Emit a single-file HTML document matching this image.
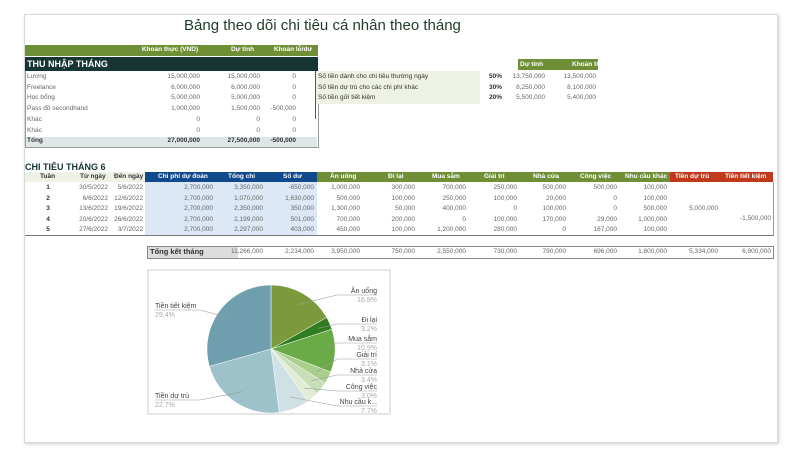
<!DOCTYPE html>
<html><head><meta charset="utf-8">
<style>
body{margin:0;width:800px;height:456px;background:#fff;font-family:"Liberation Sans",sans-serif;position:relative;overflow:hidden}
.frame{position:absolute;left:24px;top:14px;width:752px;height:427px;border:1px solid #d9d9d9;box-shadow:1px 1px 3px #ccc;background:#fff}
.a{position:absolute;font-size:6.5px;color:#666;white-space:nowrap;line-height:10px}
.r{text-align:right}
.c{text-align:center}
.bx{position:absolute}
.h{color:#fff}
</style></head><body>
<div class="frame"></div>
<div class="a" style="left:184px;top:16px;font-size:15px;line-height:20px;color:#1f3b2a">Bảng theo dõi chi tiêu cá nhân theo tháng</div>

<!-- income table -->
<div class="bx" style="left:25px;top:45px;width:293px;height:11px;background:#6e8f36"></div>
<div class="bx" style="left:25px;top:57px;width:293px;height:14px;background:#153633"></div>
<div class="a" style="left:27px;top:58px;font-size:9px;line-height:13px;color:#fff;font-weight:bold">THU NHẬP THÁNG</div>
<div class="bx" style="left:25px;top:71px;width:292px;height:76px;border:1px solid #999;border-top:none"></div>
<div class="bx" style="left:26px;top:137px;width:291px;height:10px;background:#dfe6e8"></div>
<div id="income"></div>

<!-- allocation table -->
<div class="bx" style="left:518px;top:59px;width:80px;height:11px;background:#6e8f36"></div>
<div class="bx" style="left:316px;top:71px;width:164px;height:33px;background:#eef2e4"></div>
<div class="bx" style="left:315px;top:71px;width:1px;height:48px;background:#555"></div>
<div id="alloc"></div>

<div class="a" style="left:25px;top:161px;font-size:9px;line-height:13px;color:#153633;font-weight:bold">CHI TIÊU THÁNG 6</div>
<div class="bx" style="left:25px;top:172px;width:120px;height:10px;background:#eef2e4"></div>
<div class="bx" style="left:145px;top:172px;width:172px;height:10px;background:#114a8c"></div>
<div class="bx" style="left:317px;top:172px;width:353px;height:10px;background:#6e8f36"></div>
<div class="bx" style="left:670px;top:172px;width:103px;height:10px;background:#c0391b"></div>
<div class="bx" style="left:145px;top:182px;width:172px;height:53px;background:#dce8f5"></div>
<div class="bx" style="left:25px;top:182px;width:748px;height:53px;border-bottom:1px solid #777;border-right:1px solid #999"></div>
<div class="bx" style="left:147px;top:246px;width:625px;height:11px;border:1px solid #888"></div>
<div class="bx" style="left:148px;top:247px;width:90px;height:11px;background:#ddd"></div>
<div id="spend"></div>

<svg style="position:absolute;left:0;top:0" width="800" height="456" id="pie">
<rect x="148" y="270" width="242" height="144" fill="#fff" stroke="#ccc"/>
</svg>

<script>
function cell(txt,x,y,w,align,cls,extra,name){
  var d=document.createElement('div');
  d.className='a '+(align||'')+' '+(cls||'');
  d.style.left=x+'px';d.style.top=y+'px';if(w)d.style.width=w+'px';
  if(extra)d.style.cssText+=extra;
  d.textContent=txt;
  
  
  document.body.appendChild(d);
}
// income
var incLabels=["Lương","Freelance","Học bổng","Pass đồ secondhand","Khác","Khác","Tổng"];
var incActual=["15,000,000","6,000,000","5,000,000","1,000,000","0","0","27,000,000"];
var incPlan=["15,000,000","6,000,000","5,000,000","1,500,000","0","0","27,500,000"];
var incDiff=["0","0","0","-500,000","0","0","-500,000"];
cell("Khoản thực (VND)",130,45,80,'c','h','font-weight:bold','income-col-actual');
cell("Dự tính",220,45,45,'c','h','font-weight:bold','income-col-plan');
cell("Khoản lỗ/dư",268,45,50,'c','h','font-weight:bold','income-col-diff');
for(var i=0;i<7;i++){
  var y=72+i*10.7, b=i==6?'font-weight:bold;color:#333':'';
  cell(incLabels[i],27,y,0,'','',b,'income-label');
  cell(incActual[i],130,y,70,'r','',b,'income-actual');
  cell(incPlan[i],190,y,70,'r','',b,'income-plan');
  cell(incDiff[i],246,y,50,'r','',b,'income-diff');
}
// allocation
var alLabels=["Số tiền dành cho chi tiêu thường ngày","Số tiền dự trù cho các chi phí khác","Số tiền gửi tiết kiệm"];
var alPct=["50%","30%","20%"],alPlan=["13,750,000","8,250,000","5,500,000"],alAct=["13,500,000","8,100,000","5,400,000"];
cell("Dự tính",520,60,0,'','h','font-weight:bold','alloc-col-plan');
cell("Khoản thực",572,60,0,'','h','font-weight:bold','alloc-col-actual');
for(i=0;i<3;i++){var y=72+i*10.6;
  cell(alLabels[i],318,y,0,'','','color:#333','alloc-label');
  cell(alPct[i],470,y,32,'r','','font-weight:bold;color:#333','alloc-pct');
  cell(alPlan[i],500,y,45,'r','','','alloc-plan');
  cell(alAct[i],550,y,46,'r','','','alloc-actual');}
// spending
var heads=["Tuần","Từ ngày","Đến ngày","Chi phí dự đoán","Tổng chi","Số dư","Ăn uống","Đi lại","Mua sắm","Giải trí","Nhà cửa","Công việc","Nhu cầu khác","Tiền dự trù","Tiền tiết kiệm"];
var headX=[40,80,114,158,228,283,330,388,432,484,533,580,625,675,725];
var colR=[56,110,145,215,265,316,362,417,468,519,568,619,669,720,773];
var weeks=[["1","30/5/2022","5/6/2022","2,700,000","3,350,000","-650,000","1,000,000","300,000","700,000","250,000","500,000","500,000","100,000","",""],
["2","6/6/2022","12/6/2022","2,700,000","1,070,000","1,630,000","500,000","100,000","250,000","100,000","20,000","0","100,000","",""],
["3","13/6/2022","19/6/2022","2,700,000","2,350,000","350,000","1,300,000","50,000","400,000","0","100,000","0","500,000","5,000,000",""],
["4","20/6/2022","26/6/2022","2,700,000","2,199,000","501,000","700,000","200,000","0","100,000","170,000","29,000","1,000,000","","-1,500,000"],
["5","27/6/2022","3/7/2022","2,700,000","2,297,000","403,000","450,000","100,000","1,200,000","280,000","0","167,000","100,000","",""]];
var totals=["11,266,000","2,234,000","3,950,000","750,000","2,550,000","730,000","790,000","696,000","1,800,000","5,334,000","6,900,000"];
for(i=0;i<heads.length;i++) cell(heads[i],headX[i],172,0,'',i<3?'':'h',i<3?'color:#333;font-weight:bold':'font-weight:bold','spend-header');
for(var w=0;w<5;w++){var y=183+w*10.5;
  for(var c=0;c<15;c++){var v=weeks[w][c];if(v==="")continue;
    var yy=y; if(c==13||c==14){yy=(c==13?204:214);}
    if(c==0) cell(v,40,yy,16,'c','','color:#333;font-weight:bold','week-number');
    else cell(v,colR[c]-60,yy,58,'r','','','spend-value');}}
cell("Tổng kết tháng",150,247,0,'','','font-size:7.5px;color:#333;font-weight:bold','summary-label');
for(i=0;i<totals.length;i++) cell(totals[i],colR[i+4]-60,247,58,'r','','','summary-value');

// pie
var pieCats=["Ăn uống","Đi lại","Mua sắm","Giải trí","Nhà cửa","Công việc","Nhu cầu k...","Tiền dự trù","Tiền tiết kiệm"];
var pieVals=[3950000,750000,2550000,730000,790000,696000,1800000,5334000,6900000];
var pieColors=["#7b9a3c","#2f7d20","#6aab48","#a8cf8e","#c8deb6","#e3ecd6","#d0e1e6","#9dc2ca","#6f9fae"];
var labelPos=[[377,287,1],[377,316,1],[377,335,1],[377,351,1],[377,367,1],[377,383,1],[377,398,1],[155,392,0],[155,302,0]];
var svg=document.getElementById('pie'),NS='http://www.w3.org/2000/svg';
var cx=271,cy=349,R=64,tot=pieVals.reduce(function(a,b){return a+b},0),ang=0;
for(i=0;i<pieVals.length;i++){
  var a0=ang,a1=ang+pieVals[i]/tot*2*Math.PI;ang=a1;
  var x0=cx+R*Math.sin(a0),y0=cy-R*Math.cos(a0),x1=cx+R*Math.sin(a1),y1=cy-R*Math.cos(a1);
  var p=document.createElementNS(NS,'path');
  p.setAttribute('d','M'+cx+','+cy+'L'+x0+','+y0+'A'+R+','+R+' 0 '+((a1-a0)>Math.PI?1:0)+' 1 '+x1+','+y1+'Z');
  p.setAttribute('fill',pieColors[i]);p.setAttribute('stroke','#fff');p.setAttribute('stroke-width','0.5');
  
  
  svg.appendChild(p);
  var am=(a0+a1)/2,lx=labelPos[i][0],ly=labelPos[i][1]+8,right=labelPos[i][2];
  var mx=cx+R*0.8*Math.sin(am),my=cy-R*0.8*Math.cos(am);
  var ln=document.createElementNS(NS,'polyline');
  ln.setAttribute('points',mx+','+my+' '+(right?lx-40:lx+45)+','+ly+' '+(right?lx:lx)+','+ly);
  ln.setAttribute('fill','none');ln.setAttribute('stroke','#999');ln.setAttribute('stroke-width','0.6');
  
  
  svg.appendChild(ln);
  var t=document.createElementNS(NS,'text');
  t.setAttribute('x',lx);t.setAttribute('y',labelPos[i][1]+6);t.setAttribute('font-size','7');t.setAttribute('fill','#444');
  t.setAttribute('text-anchor',right?'end':'start');t.textContent=pieCats[i];
  
  
  svg.appendChild(t);
  var t2=document.createElementNS(NS,'text');
  t2.setAttribute('x',lx);t2.setAttribute('y',labelPos[i][1]+15);t2.setAttribute('font-size','7');t2.setAttribute('fill','#aaa');
  t2.setAttribute('text-anchor',right?'end':'start');t2.textContent=(pieVals[i]/tot*100).toFixed(1)+'%';
  
  
  svg.appendChild(t2);
}
</script>
</body></html>
